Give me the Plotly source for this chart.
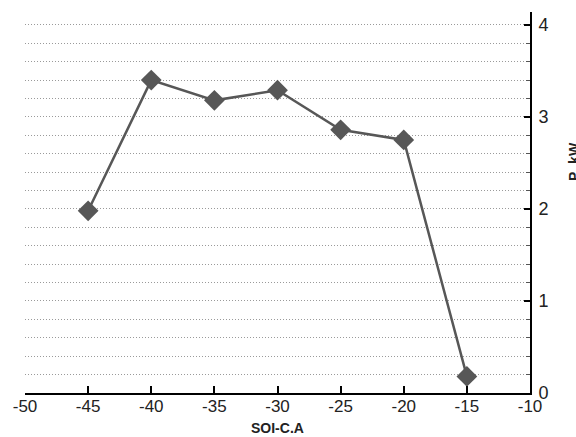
import plotly.graph_objects as go

soi = [-45, -40, -35, -30, -25, -20, -15]
p_kw = [1.98, 3.40, 3.18, 3.29, 2.86, 2.75, 0.18]
x_ticks = [-50, -45, -40, -35, -30, -25, -20, -15, -10]
y_ticks = [0, 1, 2, 3, 4]

fig = go.Figure()
fig.add_trace(go.Scatter(
    x=soi, y=p_kw, mode="lines+markers",
    line=dict(color="#575757", width=2.5),
    marker=dict(symbol="diamond", size=16, color="#575757"),
    showlegend=False,
))

fig.update_layout(
    width=576, height=437,
    margin=dict(l=25, r=46, t=12, b=44),
    paper_bgcolor="white", plot_bgcolor="white",
    font=dict(family="Liberation Sans, Arial, sans-serif", color="#222"),
    xaxis=dict(
        range=[-50, -10], tickvals=x_ticks, ticktext=[str(v) for v in x_ticks],
        showgrid=False, zeroline=False, automargin=False,
        showline=True, linecolor="black", linewidth=2,
        ticks="inside", ticklen=7, tickwidth=2, tickcolor="black",
        tickfont=dict(size=17, color="#222"), ticklabelstandoff=-3,
    ),
    yaxis=dict(
        range=[0, 4.14], side="right", tickvals=y_ticks, automargin=False,
        showgrid=True, gridcolor="#9a9a9a", griddash="1px,2px", gridwidth=1,
        zeroline=False,
        showline=True, linecolor="black", linewidth=2,
        ticks="inside", ticklen=6, tickwidth=2, tickcolor="black",
        tickfont=dict(size=18, color="#222"), ticklabelstandoff=3,
        minor=dict(dtick=0.2, showgrid=True, gridcolor="#9a9a9a", griddash="1px,2px",
                   gridwidth=1, ticks="inside", ticklen=4, tickcolor="#555", tickwidth=1),
    ),
    annotations=[
        dict(
            text="<b>P_kW</b>", textangle=-90, xref="paper", yref="paper",
            x=1 + (574 - 530) / 505, y=(393 - 162) / 381,
            xanchor="center", yanchor="middle", showarrow=False,
            font=dict(size=14, color="#222"),
        ),
        dict(
            text="<b>SOI-C.A</b>", xref="paper", yref="paper",
            x=0.5, y=-(428 - 393) / 381,
            xanchor="center", yanchor="middle", showarrow=False,
            font=dict(size=14, color="#222"),
        ),
    ],
)

fig.write_html("out.html")
